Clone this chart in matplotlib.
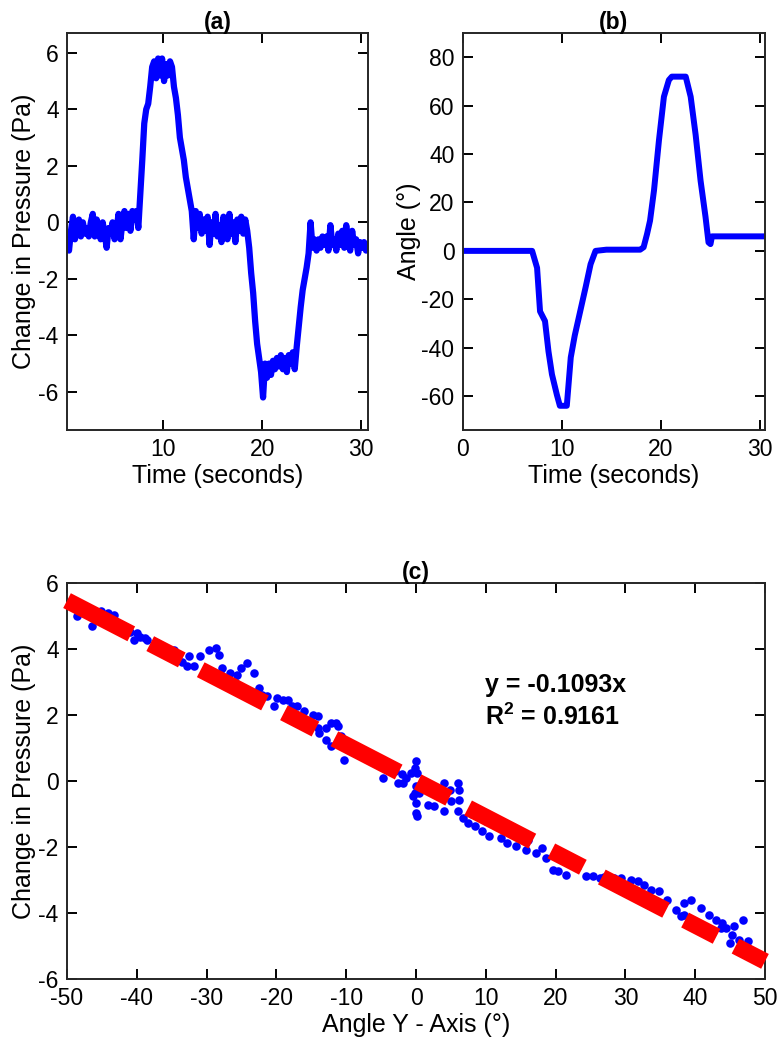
import numpy as np
import matplotlib
matplotlib.use('Agg')
import matplotlib.pyplot as plt

plt.rcParams['font.family'] = ['Liberation Sans', 'DejaVu Sans']
plt.rcParams['mathtext.fontset'] = 'custom'
plt.rcParams['mathtext.rm'] = 'Liberation Sans'
plt.rcParams['mathtext.bf'] = 'Liberation Sans:bold'
plt.rcParams['axes.unicode_minus'] = False

# (a) pressure change, sampled every 0.2 s from t = 0.3 s
t0_a = 0.3
dt_a = 0.2
dp_a = [
    -0.6, -1.0, -0.3, 0.2, -0.6, -0.1, 0.1, -0.5, 0.0, -0.4,
    -0.2, -0.5, 0.0, 0.3, -0.5, 0.1, -0.3, -0.6, 0.0, -0.4,
    -0.9, -0.2, -0.4, 0.0, -0.6, -0.3, 0.3, -0.6, 0.0, 0.4,
    -0.2, 0.3, -0.3, 0.4, 0.1, 0.4, -0.2, 1.0, 2.2, 3.5,
    4.0, 4.2, 4.8, 5.5, 5.7, 5.1, 5.8, 5.2, 5.8, 5.0,
    5.6, 5.2, 5.7, 5.5, 4.8, 4.4, 3.8, 3.0, 2.6, 2.2,
    1.6, 1.2, 0.8, 0.4, -0.6, 0.4, -0.2, 0.3, -0.4, 0.1,
    -0.3, 0.2, -0.8, 0.0, -0.4, 0.3, -0.5, -0.1, -0.7, 0.2,
    -0.2, -0.6, 0.3, -0.4, 0.0, -0.7, 0.1, -0.3, 0.2, -0.4,
    0.1, -0.3, -0.9, -1.8, -2.5, -3.5, -4.3, -4.8, -5.3, -6.2,
    -5.0, -5.5, -5.0, -5.4, -4.9, -5.2, -4.8, -5.1, -4.7, -5.2,
    -4.8, -5.3, -4.7, -5.0, -4.6, -5.2, -4.4, -3.7, -3.0, -2.4,
    -2.0, -1.6, -1.1, 0.0, -0.9, -0.6, -1.0, -0.6, -0.9, -0.5,
    -0.8, -0.5, -1.0, -0.1, -0.8, -0.6, -1.0, -0.4, -0.8, -0.3,
    -0.9, -0.1, -0.7, -1.0, -0.3, -0.8, -0.6, -1.1, -0.7, -0.9,
    -0.7, -1.0, -0.8,
]

# (b) angle vs time
t_b = [0.0, 7.0, 7.5, 7.8, 8.3, 8.65, 9.0, 9.5, 9.8, 10.5, 10.7, 10.9, 11.3,
       11.85, 12.4, 12.9, 13.4, 14.5, 17.9, 18.25, 18.6, 18.9, 19.3, 19.8,
       20.3, 20.8, 21.1, 22.5, 23.0, 23.5, 24.0, 24.5, 24.8, 25.0, 25.15, 30.5]
ang_b = [0.0, 0.0, -7.0, -25.0, -29.0, -41.5, -51.0, -59.5, -64.0, -64.0,
         -54.0, -44.0, -35.0, -25.0, -15.0, -5.5, 0.0, 0.5, 0.5, 1.5, 7.0,
         12.5, 25.0, 45.7, 63.7, 70.6, 72.0, 72.0, 63.7, 48.0, 29.0, 14.0,
         3.5, 2.8, 6.0, 6.0]

# (c) pressure vs angle scatter
ang_c = [-46.4, -45.2, -43.3, -44.2, -40.0, -40.4, -38.8, -37.1, -34.7, -32.5,
         -32.8, -31.8, -30.9, -29.7, -28.7, -28.2, -27.8, -26.6, -25.6, -25.1,
         -24.2, -23.2, -22.5, -21.3, -20.3, -19.9, -19.1, -18.4, -17.7, -17.0,
         -16.0, -14.8, -14.1, -13.9, -12.9, -12.9, -12.2, -11.5, -11.2, -10.8,
         -12.2, -10.3, -4.8, -2.6, -39.5, -38.6,
         0.0, -0.2, -0.7, -1.4, -1.9, 0.2, 0.0, -0.2, 0.0, 0.0, 0.1, 0.5, -0.5,
         1.7, 2.6, 4.0, 4.0, 4.8, 6.0, 6.2, 6.2, 6.0, 6.7, 7.4, 8.4, 9.5, 10.5,
         12.2, 13.1, 14.3, 15.8, 17.2, 18.1, 18.6, 19.6, 20.3, 21.5, 24.3, 25.3,
         26.3, 28.4, 29.4, 30.8, 31.8, 32.7, 33.7, 34.8, 36.0, 37.2, 38.4, 39.4,
         38.4, 40.8, 42.0, 43.0, 43.9, 44.4, 45.6, 46.8, 45.3, 46.3, 47.5, 43.7,
         -48.5, -47.5, -44.0, -42.0, -41.0, -36.0, -35.0, -33.5, -30.0, -28.0,
         -26.0, -24.0, -22.0, -18.0, -16.0, -14.0, -10.0, -9.0, -8.0, -7.0,
         -6.0, -5.0, -3.0, -2.0, 1.0, 2.0, 3.0, 5.0, 8.0, 10.0, 12.0, 14.0,
         16.0, 20.0, 22.0, 23.0, 27.0, 29.0, 31.0, 33.0, 35.0, 38.0, 40.0,
         41.0, 42.0, 45.0, 47.0]
dp_c = [4.69, 5.14, 5.04, 5.10, 4.48, 4.28, 4.33, 4.18, 3.98, 3.78,
        3.47, 3.47, 3.78, 3.98, 4.03, 3.83, 3.42, 3.27, 3.22, 3.42,
        3.58, 3.27, 2.82, 2.57, 2.26, 2.52, 2.46, 2.46, 2.26, 2.26,
        2.11, 2.01, 1.96, 1.45, 1.61, 1.25, 1.76, 1.76, 1.66, 1.35,
        1.05, 0.65, 0.09, -0.06, 4.37, 4.27,
        0.60, 0.39, 0.24, 0.09, -0.06, 0.24, -0.16, -0.36, -0.67, -0.97, -1.07,
        -0.36, -0.46,
        -0.72, -0.77, -0.92, -0.06, -0.26, -0.06, -0.26, -0.57, -0.92, -1.12,
        -1.27, -1.37, -1.52, -1.68, -1.73, -1.88, -1.98, -2.08, -2.18, -2.03,
        -2.33, -2.69, -2.74, -2.84, -2.89, -2.89, -2.94, -2.94, -2.94, -2.99,
        -3.04, -3.14, -3.29, -3.34, -3.60, -3.90, -3.70, -3.60, -4.05, -3.85,
        -4.05, -4.20, -4.30, -4.45, -4.40, -4.20, -4.66, -4.81, -4.86, -4.45,
        5.0, 5.1, 4.9, 4.6, 4.5, 3.9, 3.9, 3.6, 3.3, 3.2,
        3.0, 2.7, 2.6, 2.0, 1.8, 1.6, 1.1, 1.0, 0.9, 0.8,
        0.6, 0.5, 0.3, 0.2, -0.1, -0.3, -0.4, -0.6, -1.0, -1.2, -1.4, -1.6,
        -1.8, -2.2, -2.5, -2.6, -2.9, -3.1, -3.3, -3.6, -3.8, -4.1, -4.4,
        -4.5, -4.6, -4.9, -5.1]

slope = -0.1093
r2 = 0.9161
fit_x = np.array([-50, 50])

t_a = t0_a + dt_a * np.arange(len(dp_a))

fig = plt.figure(figsize=(7.83, 10.5), dpi=100)
ax_a = fig.add_axes([0.0856, 0.5905, 0.3844, 0.378])
ax_b = fig.add_axes([0.591, 0.5905, 0.386, 0.378])
ax_c = fig.add_axes([0.0856, 0.0676, 0.8914, 0.3772])

blue = '#0000FF'
red = '#FF0000'

ax_a.plot(t_a, dp_a, color=blue, lw=4.5, solid_joinstyle='round')
ax_a.set_xlim(0.3, 30.7)
ax_a.set_ylim(-7.35, 6.7)
ax_a.set_xticks([10, 20, 30])
ax_a.set_yticks([-6, -4, -2, 0, 2, 4, 6])
ax_a.set_xlabel('Time (seconds)', fontsize=18, labelpad=2)
ax_a.set_ylabel('Change in Pressure (Pa)', fontsize=18, labelpad=2)
ax_a.set_title('(a)', fontsize=16.5, fontweight='bold', pad=3)

ax_b.plot(t_b, ang_b, color=blue, lw=4.3, solid_joinstyle='round')
ax_b.set_xlim(0, 30.5)
ax_b.set_ylim(-74, 90)
ax_b.set_xticks([0, 10, 20, 30])
ax_b.set_yticks([-60, -40, -20, 0, 20, 40, 60, 80])
ax_b.set_xlabel('Time (seconds)', fontsize=18, labelpad=2)
ax_b.set_ylabel('Angle (°)', fontsize=18, labelpad=0)
ax_b.set_title('(b)', fontsize=16.5, fontweight='bold', pad=3)

ax_c.scatter(ang_c, dp_c, s=38, color=blue, linewidths=0, zorder=2)
ax_c.plot(fit_x, slope * fit_x, color=red, lw=12, solid_capstyle='butt',
          dash_capstyle='butt', dashes=(4.34, 1.28, 2.13, 1.28), zorder=3,
          clip_on=False)
ax_c.set_xlim(-50, 50)
ax_c.set_ylim(-6, 6)
ax_c.set_xticks(np.arange(-50, 51, 10))
ax_c.set_yticks([-6, -4, -2, 0, 2, 4, 6])
ax_c.set_xlabel('Angle Y - Axis (°)', fontsize=18, labelpad=2)
ax_c.set_ylabel('Change in Pressure (Pa)', fontsize=18, labelpad=2)
ax_c.set_title('(c)', fontsize=16.5, fontweight='bold', pad=3)
ax_c.text(9.9, 2.71, 'y = %.4fx' % slope, fontsize=18, fontweight='bold',
          va='baseline', ha='left')
ax_c.text(9.9, 1.70, r'R$^{\mathbf{2}}$ = %.4f' % r2, fontsize=18,
          fontweight='bold', va='baseline', ha='left')

for ax in (ax_a, ax_b, ax_c):
    ax.tick_params(direction='in', top=True, right=True, length=7, width=1.4,
                   labelsize=16.5, pad=6)
    for sp in ax.spines.values():
        sp.set_linewidth(1.4)
        sp.set_color('#262626')

fig.savefig('out.png', dpi=100)
